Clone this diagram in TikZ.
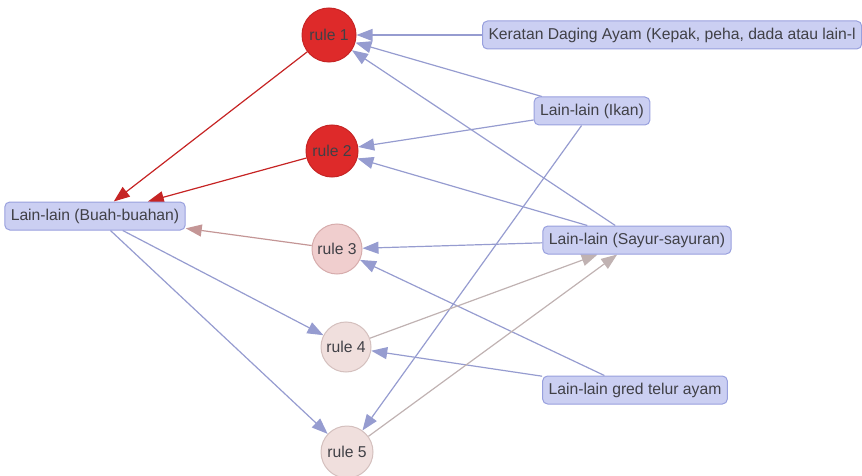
\documentclass[tikz,border=0pt]{standalone}
\usepackage{fontspec}
\setmainfont{Liberation Sans}
\usetikzlibrary{arrows.meta,backgrounds}

\definecolor{boxfill}{RGB}{203,207,242}
\definecolor{boxline}{RGB}{152,160,222}
\definecolor{edgeblue}{RGB}{150,156,208}
\definecolor{hotred}{RGB}{222,42,42}
\definecolor{hotline}{RGB}{198,36,36}
\definecolor{warmfill}{RGB}{240,206,206}
\definecolor{warmline}{RGB}{214,172,172}
\definecolor{coolfill}{RGB}{240,223,221}
\definecolor{coolline}{RGB}{212,192,190}
\definecolor{edgewarm}{RGB}{196,150,150}
\definecolor{edgecool}{RGB}{192,178,178}
\definecolor{txt}{RGB}{64,64,70}

\begin{document}
\begin{tikzpicture}[x=1pt, y=-1pt, text=txt,
  font=\fontsize{15.7}{18}\selectfont,
  item/.style = {draw=boxline, fill=boxfill, rounded corners=5pt, line width=1pt,
                 inner xsep=6pt, minimum height=28pt},
  rule/.style = {circle, draw, line width=1pt, inner sep=0pt, minimum size=52pt},
  link/.style = {line width=1.2pt, -{Triangle[length=16pt,width=12pt]}}]

		\useasboundingbox (0,0) rectangle (862,476);
		\clip (0,0) rectangle (862,476);

		\node[rule, fill=hotred, draw=hotline, minimum size=54pt] (r1) at (329,35) {rule 1};
		\node[rule, fill=hotred, draw=hotline] (r2) at (332,151) {rule 2};
		\node[rule, fill=warmfill, draw=warmline, minimum size=50pt] (r3) at (337,249) {rule 3};
		\node[rule, fill=coolfill, draw=coolline, minimum size=50pt] (r4) at (346,347) {rule 4};
		\node[rule, fill=coolfill, draw=coolline] (r5) at (347,452) {rule 5};

		\node[item, anchor=west] (ker) at (482,35) {Keratan Daging Ayam (Kepak, peha, dada atau lain-l};
		\node[item] (ikan) at (592,111) {Lain-lain (Ikan)};
		\node[item] (buah) at (95,216) {Lain-lain (Buah-buahan)};
		\node[item] (sayur) at (637,240) {Lain-lain (Sayur-sayuran)};
		\node[item] (telur) at (635,390) {Lain-lain gred telur ayam};

		\begin{scope}[on background layer]
		\draw[link, edgeblue] (ker) to (r1);
		\draw[link, edgeblue] (ikan) to (r1);
		\draw[link, edgeblue] (sayur) to (r1);
		\draw[link, edgeblue] (ikan) to (r2);
		\draw[link, edgeblue] (sayur) to (r2);
		\draw[link, edgeblue] (sayur) to (r3);
		\draw[link, edgeblue] (telur) to (r3);
		\draw[link, edgeblue] (telur) to (r4);
		\draw[link, edgeblue] (ikan) to (r5);
		\draw[link, edgeblue] (buah) to (r4);
		\draw[link, edgeblue] (buah) to (r5);

		\draw[link, hotline] (r1) to (buah);
		\draw[link, hotline] (r2) to (buah);
		\draw[link, edgewarm] (r3) to (buah);
		\draw[link, edgecool] (r4) to (sayur);
		\draw[link, edgecool] (r5) to (sayur);
		\end{scope}
	\end{tikzpicture}
\end{document}
